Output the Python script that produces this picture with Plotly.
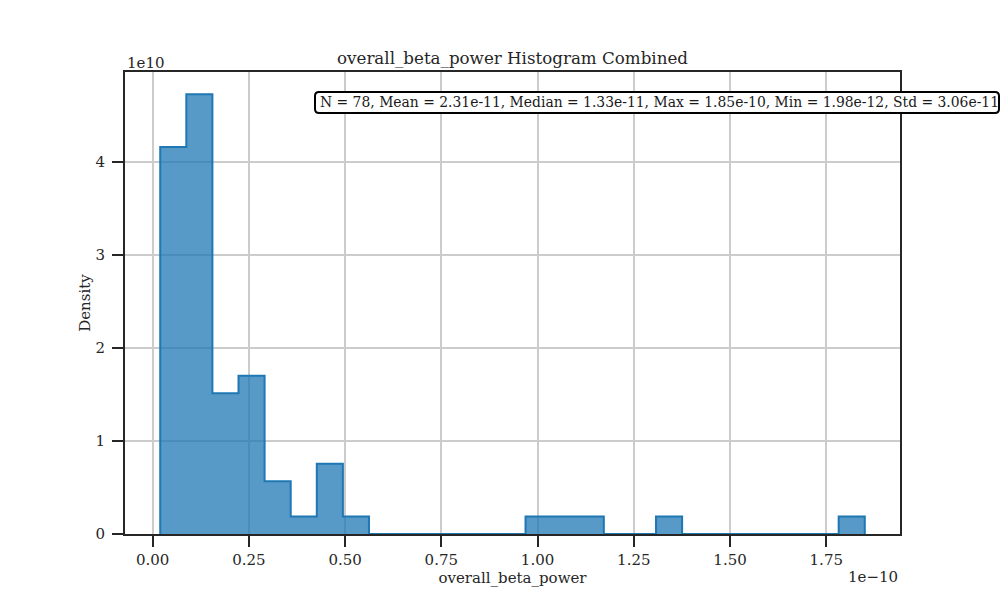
"""Density histogram of overall_beta_power (combined), step outline + fill."""
import numpy as np
import plotly.graph_objects as go

# summary values shown in the stats box
N = 78
MEAN = 2.31e-11
MEDIAN = 1.33e-11
MAX = 1.85e-10
MIN = 1.98e-12
STD = 3.06e-11
N_BINS = 27

# counts per bin (27 equal bins between MIN and MAX)
counts = [22, 25, 8, 9, 3, 1, 4, 1, 0, 0, 0, 0, 0, 0,
          1, 1, 1, 0, 0, 1, 0, 0, 0, 0, 0, 0, 1]

x_ticks = [0.0, 0.25, 0.5, 0.75, 1.0, 1.25, 1.5, 1.75]
y_ticks = [0, 1, 2, 3, 4]

X_SCALE = 1e-10
Y_SCALE = 1e10

edges = np.linspace(MIN, MAX, N_BINS + 1)
width = edges[1] - edges[0]
density = np.array(counts) / (N * width)

# step path: baseline -> bar tops -> baseline
xs = np.concatenate([[edges[0]], edges[:-1], [edges[-1]]]) / X_SCALE
ys = np.concatenate([[0], density, [0]]) / Y_SCALE

FONT = "DejaVu Serif"
INK = "#262626"

PL, PR, PT, PB = 125, 900, 72, 534          # plot area in figure px
PW, PH = PR - PL, PB - PT


def px_x(v):
    return (v - PL) / PW


def px_y(v):
    return (PB - v) / PH


fig = go.Figure()
fig.add_trace(go.Scatter(
    x=xs, y=ys, mode="lines", line=dict(shape="hv", color="#1f77b4", width=2),
    fill="tozeroy", fillcolor="rgba(31,119,180,0.75)", hoverinfo="skip",
    showlegend=False,
))

stats = (f"N = {N}, Mean = {MEAN:.2e}, Median = {MEDIAN:.2e}, "
         f"Max = {MAX:.2e}, Min = {MIN:.2e}, Std = {STD:.2e}")

# rounded stats box (figure pixels)
bx0, bx1, by0, by1, r = 315, 999, 92, 113, 4
box_path = (
    f"M {px_x(bx0 + r)},{px_y(by0)} L {px_x(bx1 - r)},{px_y(by0)} "
    f"Q {px_x(bx1)},{px_y(by0)} {px_x(bx1)},{px_y(by0 + r)} "
    f"L {px_x(bx1)},{px_y(by1 - r)} "
    f"Q {px_x(bx1)},{px_y(by1)} {px_x(bx1 - r)},{px_y(by1)} "
    f"L {px_x(bx0 + r)},{px_y(by1)} "
    f"Q {px_x(bx0)},{px_y(by1)} {px_x(bx0)},{px_y(by1 - r)} "
    f"L {px_x(bx0)},{px_y(by0 + r)} "
    f"Q {px_x(bx0)},{px_y(by0)} {px_x(bx0 + r)},{px_y(by0)} Z"
)

axis_common = dict(
    showline=True, mirror=True, linecolor=INK, linewidth=2,
    ticks="outside", ticklen=11, tickwidth=2, tickcolor=INK,
    showgrid=True, gridcolor="#cccccc", gridwidth=1.5, zeroline=False,
    tickfont=dict(family=FONT, size=15, color=INK),
)

fig.update_layout(
    width=1000, height=600,
    paper_bgcolor="white", plot_bgcolor="white",
    margin=dict(l=PL, r=1000 - PR, t=PT, b=600 - PB),
    font=dict(family=FONT, color=INK),
    title=dict(text="overall_beta_power Histogram Combined",
               x=(PL + PR) / 2 / 1000, xanchor="center",
               y=1 - 58 / 600, yanchor="middle",
               font=dict(family=FONT, size=16.7, color=INK)),
    xaxis=dict(range=[-0.0717, 1.9415], tickvals=x_ticks, tickformat=".2f",
               title=dict(text="overall_beta_power", standoff=4,
                          font=dict(family=FONT, size=15, color=INK)),
               **axis_common),
    yaxis=dict(range=[0, 4.967], tickvals=y_ticks, ticklabelstandoff=4,
               title=dict(text="Density", standoff=1,
                          font=dict(family=FONT, size=15, color=INK)),
               **axis_common),
    shapes=[dict(type="path", xref="paper", yref="paper", path=box_path,
                 fillcolor="white", line=dict(color="black", width=2),
                 layer="above")],
    annotations=[
        dict(text="1e10", xref="paper", yref="paper", x=0, y=1,
             xanchor="left", yanchor="bottom", yshift=-2, showarrow=False,
             font=dict(family=FONT, size=15, color=INK)),
        dict(text="1e\u221210", xref="paper", yref="paper", x=1, y=0,
             xanchor="right", yanchor="top", yshift=-32, showarrow=False,
             font=dict(family=FONT, size=15, color=INK)),
        dict(text=stats, xref="paper", yref="paper",
             x=px_x(317.5), y=px_y(102.5),
             xanchor="left", yanchor="middle", showarrow=False,
             font=dict(family=FONT, size=13.9, color="#1a1a1a")),
    ],
)

# drop the default body margin so the 1000x600 figure fills the window exactly
fig.write_html("out.html", config={"displayModeBar": False},
               post_script="document.body.style.margin='0';"
                           "document.body.style.overflow='hidden';")
